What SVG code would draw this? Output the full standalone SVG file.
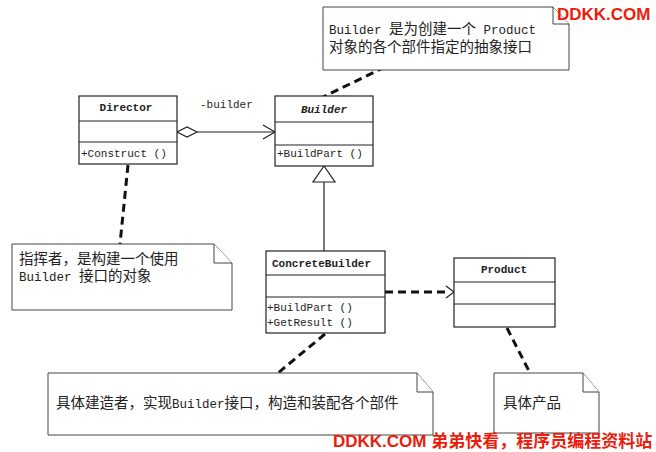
<svg xmlns="http://www.w3.org/2000/svg" width="656" height="452" viewBox="0 0 656 452">
<style>
.box{fill:#fff;stroke:#222;stroke-width:1.2}
.note{fill:#fff;stroke:#444;stroke-width:1}
.ln{fill:none;stroke:#222;stroke-width:1.2}
.dash{fill:none;stroke:#111;stroke-width:3;stroke-dasharray:8 5}
.t{font-family:"Liberation Mono","Noto Sans CJK SC",monospace;font-size:11px;fill:#222}
.b{font-weight:bold}
.n{font-family:"Liberation Mono","Noto Sans CJK SC",monospace;font-size:14.5px;fill:#222}
.lat{font-size:12.5px}
.wm{font-family:"Liberation Sans","Noto Sans CJK SC",sans-serif;font-weight:bold;font-size:17px;fill:#ec1c0c}
</style>
<rect width="656" height="452" fill="#fff"/>
<g id="connectors">
  <line class="dash" x1="385" y1="67" x2="323" y2="97"/>
  <line class="dash" x1="128" y1="165" x2="120" y2="244"/>
  <line class="dash" x1="325" y1="334" x2="278" y2="373"/>
  <line class="dash" x1="507" y1="328" x2="530" y2="373"/>
  <line class="ln" x1="197" y1="132" x2="275" y2="132"/>
  <polygon points="177,132 187,127 197,132 187,137" fill="#fff" stroke="#222" stroke-width="1.2"/>
  <polyline class="ln" points="263,125 275,132 263,139"/>
  <line class="ln" x1="324" y1="182" x2="324" y2="251"/>
  <polygon points="324,166 313,182 335,182" fill="#fff" stroke="#222" stroke-width="1.2"/>
  <line class="dash" x1="385" y1="292" x2="450" y2="292"/>
  <polyline class="ln" points="446,286 454,292 446,298"/>
</g>
<g id="director">
  <rect class="box" x="79" y="96" width="98" height="68"/>
  <line class="ln" x1="79" y1="121" x2="177" y2="121"/>
  <line class="ln" x1="79" y1="142" x2="177" y2="142"/>
  <text class="t b" x="126" y="111" text-anchor="middle">Director</text>
  <text class="t" x="81" y="157">+Construct ()</text>
</g>
<g id="builder">
  <rect class="box" x="275" y="96" width="98" height="70"/>
  <line class="ln" x1="275" y1="122" x2="373" y2="122"/>
  <line class="ln" x1="275" y1="145" x2="373" y2="145"/>
  <text class="t b" x="324" y="113" text-anchor="middle" font-style="italic">Builder</text>
  <text class="t" x="277" y="157">+BuildPart ()</text>
</g>
<text class="t" x="200" y="108">-builder</text>
<g id="concretebuilder">
  <rect class="box" x="266" y="251" width="119" height="82"/>
  <line class="ln" x1="266" y1="275" x2="385" y2="275"/>
  <line class="ln" x1="266" y1="297" x2="385" y2="297"/>
  <text class="t b" x="272" y="267">ConcreteBuilder</text>
  <text class="t" x="267" y="311">+BuildPart ()</text>
  <text class="t" x="267" y="326">+GetResult ()</text>
</g>
<g id="product">
  <rect class="box" x="454" y="258" width="101" height="69"/>
  <line class="ln" x1="454" y1="282" x2="555" y2="282"/>
  <line class="ln" x1="454" y1="304" x2="555" y2="304"/>
  <text class="t b" x="504" y="273" text-anchor="middle">Product</text>
</g>
<g id="note-builder">
  <path class="note" d="M323,7 H553 L569,24 V70 H323 Z"/>
  <path class="note" d="M553,7 V24 H569" fill="none"/>
  <text class="n" x="329" y="34"><tspan class="lat">Builder </tspan>是为创建一个<tspan class="lat"> Product</tspan></text>
  <text class="n" x="329" y="52">对象的各个部件指定的抽象接口</text>
</g>
<g id="note-director">
  <path class="note" d="M12,244 H214 L232,263 V310 H12 Z"/>
  <path class="note" d="M214,244 V263 H232" fill="none"/>
  <text class="n" x="19" y="264">指挥者，是构建一个使用</text>
  <text class="n" x="19" y="281"><tspan class="lat">Builder </tspan>接口的对象</text>
</g>
<g id="note-concretebuilder">
  <path class="note" d="M48,373 H417 L433,392 V435 H48 Z"/>
  <path class="note" d="M417,373 V392 H433" fill="none"/>
  <text class="n" x="56" y="408">具体建造者，实现<tspan class="lat">Builder</tspan>接口，构造和装配各个部件</text>
</g>
<g id="note-product">
  <path class="note" d="M494,373 H583 L599,392 V433 H494 Z"/>
  <path class="note" d="M583,373 V392 H599" fill="none"/>
  <text class="n" x="503" y="408">具体产品</text>
</g>
<text class="wm" x="557" y="20">DDKK.COM</text>
<text class="wm" x="333" y="447">DDKK.COM 弟弟快看，程序员编程资料站</text>
</svg>
